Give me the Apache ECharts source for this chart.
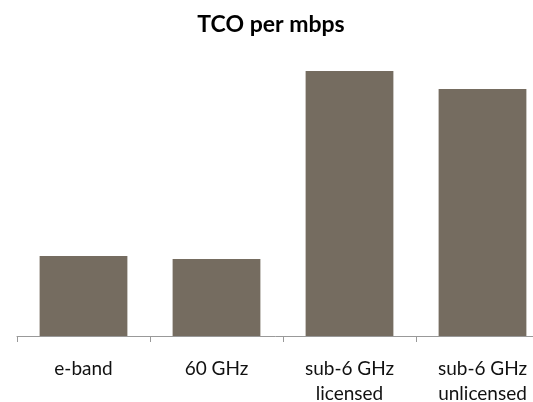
<!DOCTYPE html>
<html><head><meta charset="utf-8">
<script src="https://cdn.jsdelivr.net/npm/echarts@6/dist/echarts.min.js"></script>
<style>html,body{margin:0;padding:0;background:#fff}#c{width:533px;height:402px}</style>
</head><body><div id="c"></div>
<script>
const categories = ['e-band', '60 GHz', 'sub-6 GHz\nlicensed', 'sub-6 GHz\nunlicensed'];
const values = [80, 77, 265, 247];
const chart = echarts.init(document.getElementById('c'));
chart.setOption({
  animation: false,
  title: { text: 'TCO per mbps', left: 266, top: 8, textAlign: 'center',
    textStyle: { fontFamily: 'Lato', fontWeight: 'bold', fontSize: 23, color: '#000' } },
  grid: { left: 17, top: 36, width: 532, height: 300, containLabel: false, outerBoundsMode: 'none' },
  xAxis: { type: 'category', data: categories,
    axisLine: { lineStyle: { color: '#999', width: 1 } },
    axisTick: { show: true, length: 6, lineStyle: { color: '#999' } },
    axisLabel: { fontFamily: 'Lato', fontSize: 19, color: '#111', margin: 20, lineHeight: 25, interval: 0 } },
  yAxis: { type: 'value', min: 0, max: 300, show: false, splitLine: { show: false } },
  series: [{ type: 'bar', data: values, barWidth: '66%',
    itemStyle: { color: '#756C60' } }]
});
</script></body></html>
